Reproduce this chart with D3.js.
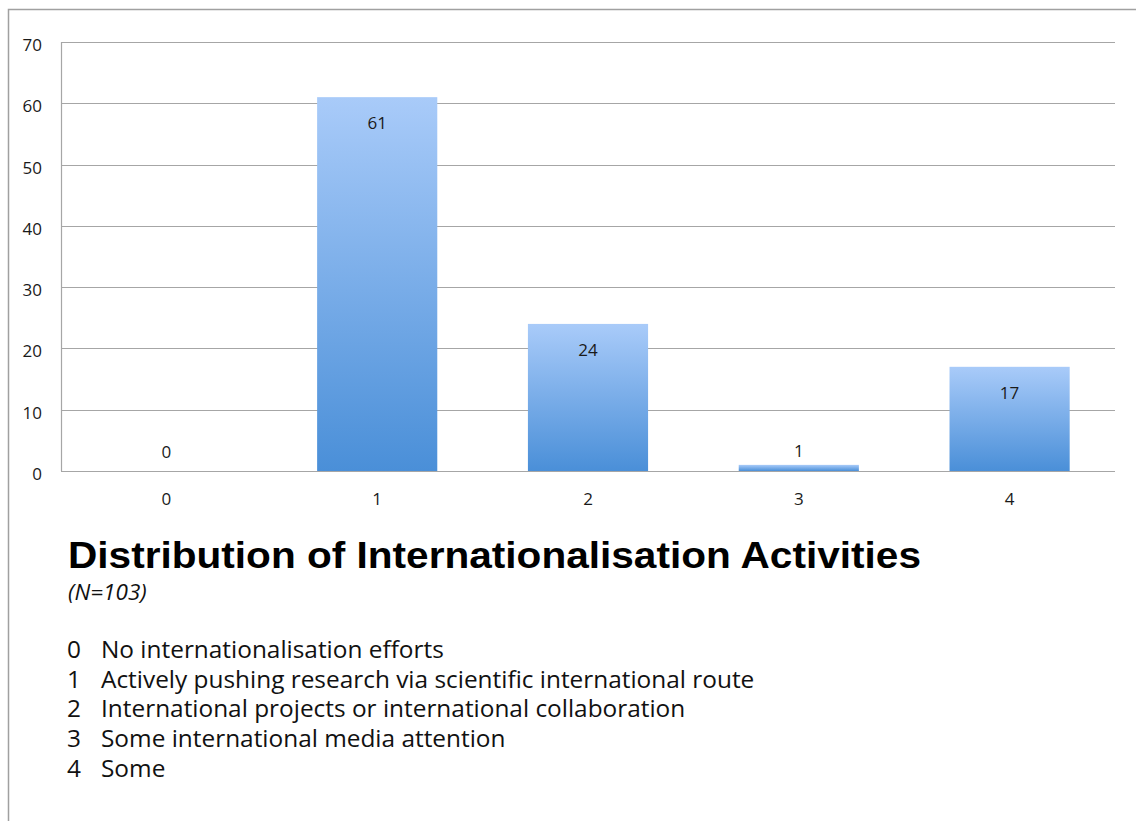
<!DOCTYPE html>
<html>
<head>
<meta charset="utf-8">
<script src="https://cdn.jsdelivr.net/npm/d3@7"></script>
<style>
  body { margin: 0; background: #fff; }
</style>
</head>
<body>
<svg id="plot" width="1136" height="821"></svg>
<script>
var categories = ["0", "1", "2", "3", "4"];
var counts = [0, 61, 24, 1, 17];
var yTicks = [0, 10, 20, 30, 40, 50, 60, 70];
var chartTitle = "Distribution of Internationalisation Activities";
var subTitle = "(N=103)";
var legendCodes = ["0", "1", "2", "3", "4"];
var legendLabels = [
  "No internationalisation efforts",
  "Actively pushing research via scientific international route",
  "International projects or international collaboration",
  "Some international media attention",
  "Some"
];

var data = categories.map(function (c, i) { return { cat: c, value: counts[i] }; });

var svg = d3.select("#plot");

// outer frame (only top and left edges visible)
svg.append("path")
  .attr("d", "M8.5,821 L8.5,9.5 L1136,9.5")
  .attr("fill", "none")
  .attr("stroke", "#a0a0a0")
  .attr("stroke-width", 1.5);

var margin = { top: 42, left: 61 },
  width = 1054,
  height = 429;

var defs = svg.append("defs");
var grad = defs.append("linearGradient")
  .attr("id", "barFill")
  .attr("x1", 0).attr("y1", 0).attr("x2", 0).attr("y2", 1);
grad.append("stop").attr("offset", "0%").attr("stop-color", "#a9cbf9");
grad.append("stop").attr("offset", "100%").attr("stop-color", "#4a8fd8");

var g = svg.append("g")
  .attr("transform", "translate(" + margin.left + "," + margin.top + ")");

var x = d3.scaleBand()
  .domain(categories)
  .range([0, width])
  .paddingInner(0.43)
  .paddingOuter(0.215);

var y = d3.scaleLinear()
  .domain([0, 70])
  .range([height, 0]);

// grid lines
g.append("g")
  .selectAll("line")
  .data(yTicks)
  .enter().append("line")
  .attr("x1", 0)
  .attr("x2", width)
  .attr("y1", function (d) { return Math.round(y(d)) + 0.5; })
  .attr("y2", function (d) { return Math.round(y(d)) + 0.5; })
  .attr("stroke", "#a6a6a6")
  .attr("stroke-width", 1.2);

// left axis line
g.append("line")
  .attr("x1", 0.5).attr("x2", 0.5)
  .attr("y1", 0).attr("y2", height)
  .attr("stroke", "#a6a6a6")
  .attr("stroke-width", 1.2);

// y axis labels
var yAxis = g.append("g")
  .call(d3.axisLeft(y).tickValues(yTicks).tickSize(0).tickPadding(19));
yAxis.select(".domain").remove();
yAxis.selectAll("text")
  .attr("font-family", "Open Sans")
  .attr("font-size", 17)
  .attr("fill", "#1a1a1a")
  .attr("dy", "0.5em");

// x axis labels
var xAxis = g.append("g")
  .attr("transform", "translate(0," + height + ")")
  .call(d3.axisBottom(x).tickSize(0).tickPadding(22));
xAxis.select(".domain").remove();
xAxis.selectAll("text")
  .attr("font-family", "Open Sans")
  .attr("font-size", 17)
  .attr("fill", "#1a1a1a");

// bars
g.append("g")
  .selectAll("rect")
  .data(data)
  .enter().append("rect")
  .attr("x", function (d) { return x(d.cat); })
  .attr("y", function (d) { return y(d.value); })
  .attr("width", x.bandwidth())
  .attr("height", function (d) { return height - y(d.value); })
  .attr("fill", "url(#barFill)");

// value labels: inside the top of tall bars, above short ones
g.append("g")
  .selectAll("text")
  .data(data)
  .enter().append("text")
  .attr("x", function (d) { return x(d.cat) + x.bandwidth() / 2; })
  .attr("y", function (d) {
    if (d.value >= 5) return y(d.value) + 32;
    return Math.min(y(d.value) - 8, y(0) - 13);
  })
  .attr("text-anchor", "middle")
  .attr("font-family", "Open Sans")
  .attr("font-size", 17)
  .attr("fill", "#1a1a1a")
  .text(function (d) { return d.value; });

// title
svg.append("text")
  .attr("x", 68)
  .attr("y", 568)
  .attr("font-family", "Liberation Sans, Arial, sans-serif")
  .attr("font-weight", "bold")
  .attr("font-size", 37)
  .attr("textLength", 853)
  .attr("lengthAdjust", "spacingAndGlyphs")
  .attr("fill", "#000")
  .text(chartTitle);

svg.append("text")
  .attr("x", 68)
  .attr("y", 600)
  .attr("font-family", "Open Sans")
  .attr("font-style", "italic")
  .attr("font-size", 22.5)
  .attr("fill", "#111")
  .text(subTitle);

// legend lines
var legend = svg.append("g");
legendCodes.forEach(function (code, i) {
  var yy = 658 + i * 29.7;
  legend.append("text")
    .attr("x", 67)
    .attr("y", yy)
    .attr("font-family", "Open Sans")
    .attr("font-size", 24.4)
    .attr("fill", "#111")
    .text(code);
  legend.append("text")
    .attr("x", 101)
    .attr("y", yy)
    .attr("font-family", "Open Sans")
    .attr("font-size", 24.4)
    .attr("fill", "#111")
    .text(legendLabels[i]);
});
</script>
</body>
</html>
